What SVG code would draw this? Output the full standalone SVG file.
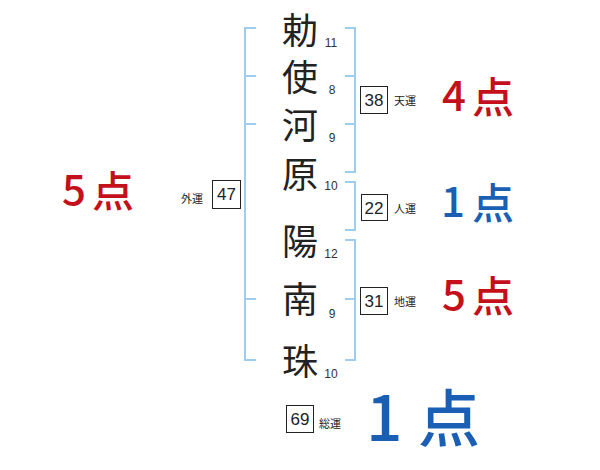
<svg xmlns="http://www.w3.org/2000/svg" width="600" height="470" viewBox="0 0 600 470">
<style>
.br{fill:none;stroke:#9fcdee;stroke-width:2}
.nm{font-family:"Noto Sans CJK JP","Noto Sans",sans-serif;font-size:36px;fill:#222;text-anchor:middle}
.sk{font-family:"Liberation Sans","DejaVu Sans",sans-serif;font-size:12px;fill:#333;text-anchor:middle}
.bx{fill:#fff;stroke:#222;stroke-width:1}
.bn{font-family:"Liberation Sans","DejaVu Sans",sans-serif;font-size:17px;fill:#222;text-anchor:middle}
.lb{font-family:"Noto Sans CJK JP",sans-serif;font-size:11px;fill:#222}
.sc{font-family:"Noto Sans CJK JP","Noto Sans",sans-serif;font-size:42px;font-weight:500}
.red{fill:#c4101a}
.blue{fill:#1a5fb4}
</style>
<g id="connectors">
<path class="br" d="M256,28 H245 V360 H256 M245,76 H256 M245,124 H256 M245,299 H256"/>
<path class="br" d="M345,28 H355 V172 H345 M345,76 H355 M345,124 H355"/>
<path class="br" d="M345,182 H355 V230 H345"/>
<path class="br" d="M345,240 H355 V360 H345 M345,299 H355"/>
</g>
<g id="name">
<text class="nm" x="300" y="44">勅</text>
<text class="nm" x="300" y="91">使</text>
<text class="nm" x="300" y="139">河</text>
<text class="nm" x="300" y="188">原</text>
<text class="nm" x="300" y="255">陽</text>
<text class="nm" x="300" y="313">南</text>
<text class="nm" x="300" y="375">珠</text>
</g>
<g id="strokes">
<text class="sk" x="331" y="47">11</text>
<text class="sk" x="332" y="94">8</text>
<text class="sk" x="332" y="142">9</text>
<text class="sk" x="331" y="190">10</text>
<text class="sk" x="331" y="258">12</text>
<text class="sk" x="332" y="318">9</text>
<text class="sk" x="331" y="378">10</text>
</g>
<g id="tenun">
<rect class="bx" x="360.5" y="86.5" width="27" height="27"/>
<text class="bn" x="374" y="106">38</text>
<text class="lb" x="394" y="105">天運</text>
<text class="sc red" x="442" y="111">4</text>
<text class="sc red" x="472" y="113">点</text>
</g>
<g id="jinun">
<rect class="bx" x="361.5" y="194.5" width="26" height="26"/>
<text class="bn" x="374" y="214">22</text>
<text class="lb" x="394" y="213">人運</text>
<text class="sc blue" x="441" y="217">1</text>
<text class="sc blue" x="472" y="219">点</text>
</g>
<g id="chiun">
<rect class="bx" x="360.5" y="287.5" width="27" height="27"/>
<text class="bn" x="374" y="307">31</text>
<text class="lb" x="394" y="306">地運</text>
<text class="sc red" x="442" y="310">5</text>
<text class="sc red" x="472" y="312">点</text>
</g>
<g id="gaiun">
<rect class="bx" x="212.5" y="180.5" width="28" height="28"/>
<text class="bn" x="226.5" y="200">47</text>
<text class="lb" x="181" y="203">外運</text>
<text class="sc red" x="62" y="205">5</text>
<text class="sc red" x="92" y="207">点</text>
</g>
<g id="souun">
<rect class="bx" x="286.5" y="405.5" width="27" height="27"/>
<text class="bn" x="300" y="425">69</text>
<text class="lb" x="319" y="428">総運</text>
<text class="sc blue" x="366" y="441" style="font-size:64px">1</text>
<text class="sc blue" x="418" y="442" style="font-size:62px">点</text>
</g>
</svg>
